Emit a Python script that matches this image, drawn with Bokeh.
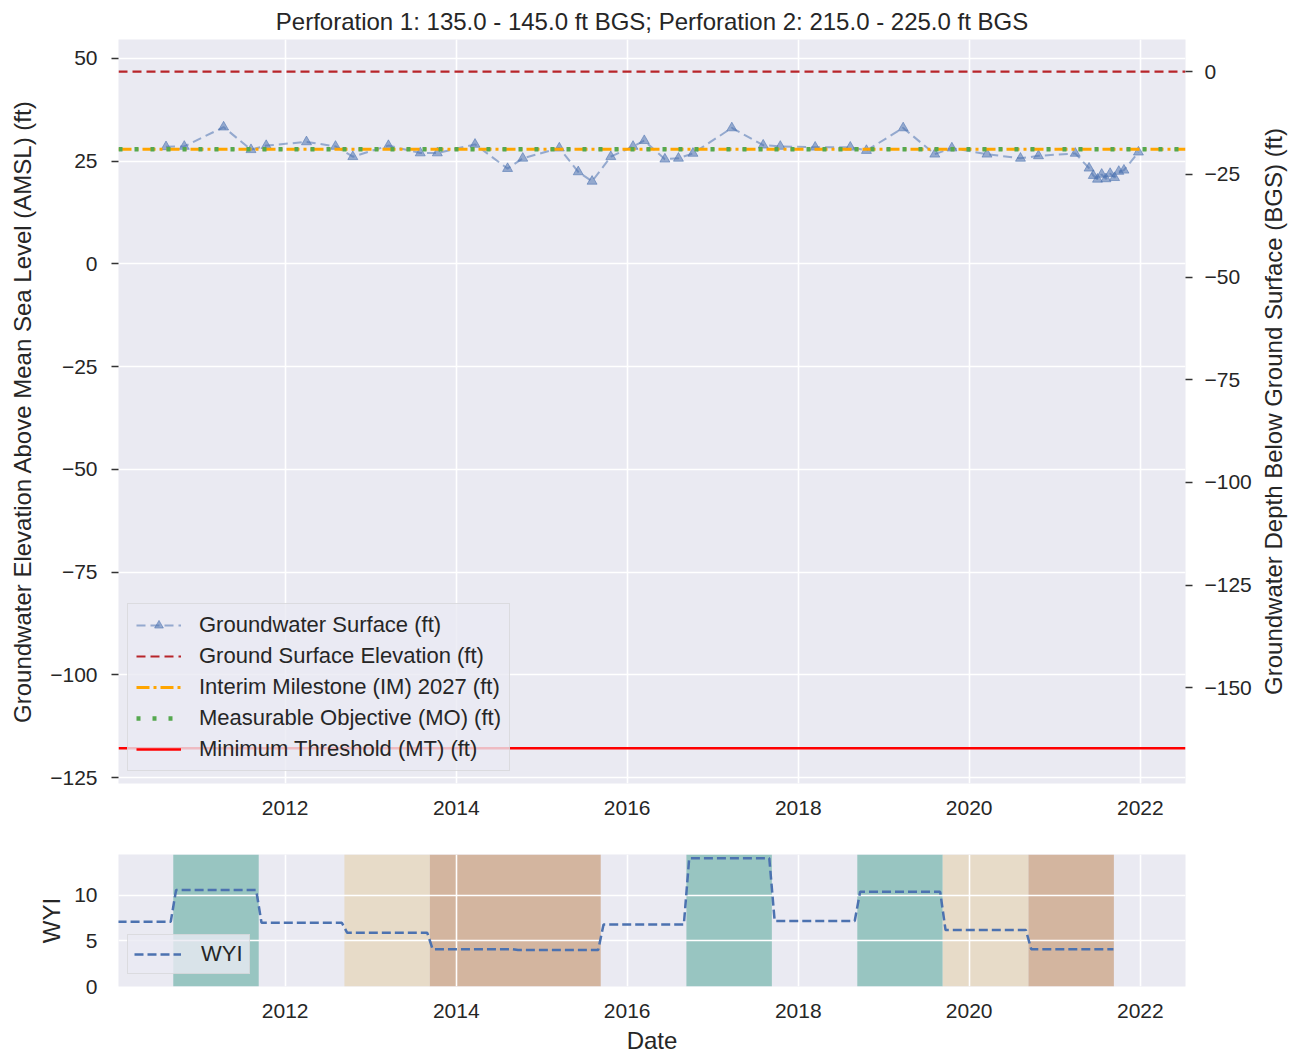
import pandas as pd
from bokeh.plotting import figure
from bokeh.models import (Range1d, LinearAxis, FixedTicker, CustomJSTickFormatter,
                          DatetimeTickFormatter, Legend, LegendItem)
from bokeh.layouts import column, row
from bokeh.embed import file_html
from bokeh.resources import INLINE

# ---------------- data ----------------
title_text = "Perforation 1: 135.0 - 145.0 ft BGS; Perforation 2: 215.0 - 225.0 ft BGS"
left_label = "Groundwater Elevation Above Mean Sea Level (AMSL) (ft)"
right_label = "Groundwater Depth Below Ground Surface (BGS) (ft)"

gw_dates = ["2010-08-10", "2010-10-27", "2011-04-13", "2011-08-08", "2011-10-12",
            "2012-04-01", "2012-08-03", "2012-10-16", "2013-03-17", "2013-07-31",
            "2013-10-12", "2014-03-22", "2014-08-08", "2014-10-12", "2015-03-17",
            "2015-06-06", "2015-08-04", "2015-10-23", "2016-01-26", "2016-03-14",
            "2016-06-10", "2016-08-07", "2016-10-08", "2017-03-23", "2017-08-04",
            "2017-10-16", "2018-03-14", "2018-08-11", "2018-10-19", "2019-03-25",
            "2019-08-07", "2019-10-19", "2020-03-17", "2020-08-07", "2020-10-23",
            "2021-03-29", "2021-05-27", "2021-06-14", "2021-07-02", "2021-07-20",
            "2021-08-07", "2021-08-25", "2021-09-13", "2021-10-01", "2021-10-23",
            "2021-12-24"]
gw_values = [28.5, 28.6, 33.3, 27.8, 28.8,
             29.7, 28.6, 26.1, 28.8, 27.0,
             27.0, 29.1, 23.2, 25.7, 28.2,
             22.4, 20.1, 26.1, 28.6, 30.0,
             25.5, 25.7, 26.9, 33.1, 28.9,
             28.6, 28.4, 28.4, 27.6, 33.1,
             26.7, 28.2, 26.7, 25.7, 26.3,
             26.9, 23.3, 21.5, 20.6, 21.8,
             20.7, 22.0, 21.0, 22.5, 22.8,
             27.2]

ground_surface_elev = 46.8     # ft AMSL
interim_milestone = 27.9       # ft AMSL
measurable_objective = 27.9    # ft AMSL
minimum_threshold = -117.9     # ft AMSL

wy_years = [2010, 2011, 2012, 2013, 2014, 2015, 2016, 2017, 2018, 2019, 2020, 2021]
wyi_values = [7.1, 10.6, 7.0, 5.9, 4.1, 4.0, 6.8, 14.1, 7.2, 10.4, 6.2, 4.1]
wy_types = ["BN", "W", "BN", "D", "C", "C", "BN", "W", "BN", "W", "D", "C"]
wy_type_colors = {"W": "#98C5C1", "D": "#E7DBC8", "C": "#D3B59F"}

year_ticks = [2012, 2014, 2016, 2018, 2020, 2022]
left_ticks = [-125, -100, -75, -50, -25, 0, 25, 50]
right_ticks = [-150, -125, -100, -75, -50, -25, 0]
wyi_ticks = [0, 5, 10]

x_start = pd.Timestamp("2010-01-19")
x_end = pd.Timestamp("2022-07-13")
y_start, y_end = -126.46, 54.62

# ---------------- style helpers ----------------
FONT = "Liberation Sans"
TXT = "#262626"
BG = "#EAEAF2"
FW, FH = 1067, 744

minus_fmt = CustomJSTickFormatter(code="""
    return tick < 0 ? '\\u2212' + Math.abs(tick) : String(tick);
""")
x_tick_ms = [pd.Timestamp(f"{y}-01-01").value // 10**6 for y in year_ticks]


def style(p):
    p.background_fill_color = BG
    p.border_fill_color = "white"
    p.outline_line_color = None
    for g in (p.xgrid, p.ygrid):
        g.grid_line_color = "white"
        g.grid_line_width = 1.6
    for ax in p.axis:
        ax.axis_line_color = None
        ax.major_label_text_font = FONT
        ax.major_label_text_font_size = "21px"
        ax.major_label_text_color = TXT
        ax.axis_label_text_font = FONT
        ax.axis_label_text_font_size = "24px"
        ax.axis_label_text_font_style = "normal"
        ax.axis_label_text_color = TXT
        ax.minor_tick_line_color = None
    p.xaxis.ticker = FixedTicker(ticks=x_tick_ms)
    p.xaxis.formatter = DatetimeTickFormatter(years="%Y", months="%Y", days="%Y")
    p.xaxis.major_tick_line_color = None
    p.xaxis.major_tick_out = 0
    p.xaxis.major_label_standoff = 17


# ---------------- top figure ----------------
p = figure(x_axis_type="datetime", frame_width=FW, frame_height=FH,
           x_range=Range1d(x_start, x_end), y_range=Range1d(y_start, y_end),
           min_border_left=118, min_border_right=66, min_border_top=38,
           min_border_bottom=50, output_backend="svg", toolbar_location=None)
p.title.text = title_text
p.title.align = "center"
p.title.text_font = FONT
p.title.text_font_size = "24px"
p.title.text_font_style = "normal"
p.title.text_color = TXT
p.title.standoff = 10

p.extra_y_ranges = {"bgs": Range1d(y_start - ground_surface_elev, y_end - ground_surface_elev)}
right_axis = LinearAxis(y_range_name="bgs")
p.add_layout(right_axis, "right")

style(p)
p.yaxis[0].axis_label = left_label
p.yaxis[0].ticker = FixedTicker(ticks=left_ticks)
right_axis.ticker = FixedTicker(ticks=right_ticks)
for ax in p.yaxis:
    ax.formatter = minus_fmt
    ax.major_tick_line_color = "#333333"
    ax.major_tick_line_width = 1.5
    ax.major_tick_out = 7
    ax.major_tick_in = 0
    ax.major_label_standoff = 14
    ax.axis_label_standoff = 11
right_axis.major_label_standoff = 12

gw_x = pd.to_datetime(gw_dates)
gw_color = "#4C72B0"
gw_line = p.line(gw_x, gw_values, line_color=gw_color, line_alpha=0.55,
                 line_width=2, line_dash="9 5")
gw_pts = p.scatter(gw_x, gw_values, marker="triangle", size=10,
                   fill_color=gw_color, line_color=gw_color, fill_alpha=0.55, line_alpha=0.55)

xx = [x_start, x_end]
gse = p.line(xx, [ground_surface_elev] * 2, line_color="#B8252A", line_width=2.2, line_dash="9 5")
im = p.line(xx, [interim_milestone] * 2, line_color="#FFA500", line_width=3, line_dash="13 4 3 4")
mo = p.line(xx, [measurable_objective] * 2, line_color="#55A84F", line_width=4.5, line_dash="4 12")
mt = p.line(xx, [minimum_threshold] * 2, line_color="#FF0000", line_width=2.5)

leg = Legend(items=[
    LegendItem(label="Groundwater Surface (ft)", renderers=[gw_line, gw_pts]),
    LegendItem(label="Ground Surface Elevation (ft)", renderers=[gse]),
    LegendItem(label="Interim Milestone (IM) 2027 (ft)", renderers=[im]),
    LegendItem(label="Measurable Objective (MO) (ft)", renderers=[mo]),
    LegendItem(label="Minimum Threshold (MT) (ft)", renderers=[mt]),
], location=(9, 12))
leg.label_text_font = FONT
leg.label_text_font_size = "22px"
leg.label_text_color = TXT
leg.background_fill_color = BG
leg.background_fill_alpha = 0.8
leg.border_line_color = "#CCCCCC"
leg.border_line_width = 1
leg.glyph_width = 45
leg.glyph_height = 22
leg.label_height = 22
leg.spacing = 5
leg.padding = 8
leg.margin = 0
leg.label_standoff = 18
p.add_layout(leg)

# right-hand axis title, reading bottom-to-top (a left-side title of a narrow strip)
lab = figure(frame_width=1, frame_height=FH, min_border_left=36, min_border_right=0,
             min_border_top=38, min_border_bottom=50, x_axis_location=None,
             y_axis_location=None, title_location="left", output_backend="svg",
             toolbar_location=None)
lab.grid.visible = False
lab.outline_line_color = None
lab.background_fill_color = "white"
lab.border_fill_color = "white"
lab.title.text = right_label
lab.title.align = "center"
lab.title.text_font = FONT
lab.title.text_font_size = "24px"
lab.title.text_font_style = "normal"
lab.title.text_color = TXT
lab.title.standoff = 7

# ---------------- bottom figure ----------------
q = figure(x_axis_type="datetime", frame_width=FW, frame_height=132,
           x_range=p.x_range, y_range=Range1d(0, 14.5),
           min_border_left=118, min_border_right=66, min_border_top=21,
           min_border_bottom=66, output_backend="svg", toolbar_location=None)
style(q)
q.yaxis.axis_label = "WYI"
q.yaxis.ticker = FixedTicker(ticks=wyi_ticks)
q.yaxis.major_tick_line_color = None
q.yaxis.major_tick_out = 0
q.yaxis.major_label_standoff = 21
q.yaxis.axis_label_standoff = 6
q.xaxis.axis_label = "Date"
q.xaxis.axis_label_standoff = 6

# water-year shading (water year k: mid-Sep of k-1 to mid-Sep of k); merge runs of same type
sl, sr, sc = [], [], []
prev = None
for yr, t in zip(wy_years, wy_types):
    if t in wy_type_colors:
        if prev == t:
            sr[-1] = pd.Timestamp(f"{yr}-09-10")
        else:
            sl.append(pd.Timestamp(f"{yr - 1}-09-10"))
            sr.append(pd.Timestamp(f"{yr}-09-10"))
            sc.append(wy_type_colors[t])
    prev = t
q.quad(left=sl, right=sr, bottom=q.y_range.start, top=q.y_range.end,
       fill_color=sc, line_color=None, level="image")

# WYI step line
wx, wy = [], []
for i, (yr, v) in enumerate(zip(wy_years, wyi_values)):
    s = pd.Timestamp("2010-01-15") if i == 0 else pd.Timestamp(f"{yr - 1}-09-22")
    e = pd.Timestamp(f"{yr}-09-08") if i == len(wy_years) - 1 else pd.Timestamp(f"{yr}-08-30")
    wx += [s, e]
    wy += [v, v]
wyi_line = q.line(wx, wy, line_color="#4C72B0", line_width=2.5, line_dash="9 4")

leg2 = Legend(items=[LegendItem(label="WYI", renderers=[wyi_line])], location=(9, 12))
leg2.label_text_font = FONT
leg2.label_text_font_size = "22px"
leg2.label_text_color = TXT
leg2.background_fill_color = BG
leg2.background_fill_alpha = 0.8
leg2.border_line_color = "#CCCCCC"
leg2.glyph_width = 47
leg2.glyph_height = 20
leg2.label_height = 20
leg2.padding = 6
leg2.margin = 0
leg2.label_standoff = 20
q.add_layout(leg2)

layout = column(row(p, lab, spacing=0), q, spacing=0)
open("out.html", "w").write(file_html(layout, INLINE))
